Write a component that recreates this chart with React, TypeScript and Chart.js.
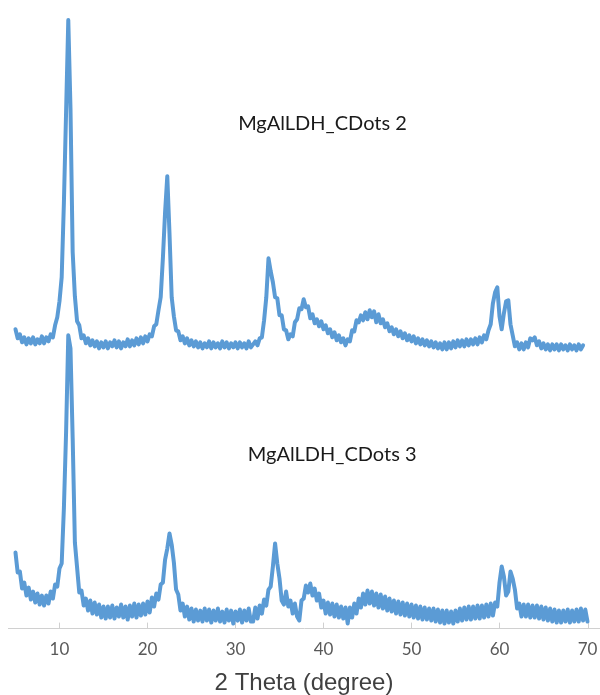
import React, { useEffect, useRef } from "react";
import { Chart, registerables } from "chart.js";

Chart.register(...registerables);

// 2θ (degree) sampling grid
const twoTheta: number[] = [
  5, 5.25, 5.5, 5.75, 6, 6.25, 6.5, 6.75,
  7, 7.25, 7.5, 7.75, 8, 8.25, 8.5, 8.75,
  9, 9.25, 9.5, 9.75, 10, 10.25, 10.5, 10.75,
  11, 11.25, 11.5, 11.75, 12, 12.25, 12.5, 12.75,
  13, 13.25, 13.5, 13.75, 14, 14.25, 14.5, 14.75,
  15, 15.25, 15.5, 15.75, 16, 16.25, 16.5, 16.75,
  17, 17.25, 17.5, 17.75, 18, 18.25, 18.5, 18.75,
  19, 19.25, 19.5, 19.75, 20, 20.25, 20.5, 20.75,
  21, 21.25, 21.5, 21.75, 22, 22.25, 22.5, 22.75,
  23, 23.25, 23.5, 23.75, 24, 24.25, 24.5, 24.75,
  25, 25.25, 25.5, 25.75, 26, 26.25, 26.5, 26.75,
  27, 27.25, 27.5, 27.75, 28, 28.25, 28.5, 28.75,
  29, 29.25, 29.5, 29.75, 30, 30.25, 30.5, 30.75,
  31, 31.25, 31.5, 31.75, 32, 32.25, 32.5, 32.75,
  33, 33.25, 33.5, 33.75, 34, 34.25, 34.5, 34.75,
  35, 35.25, 35.5, 35.75, 36, 36.25, 36.5, 36.75,
  37, 37.25, 37.5, 37.75, 38, 38.25, 38.5, 38.75,
  39, 39.25, 39.5, 39.75, 40, 40.25, 40.5, 40.75,
  41, 41.25, 41.5, 41.75, 42, 42.25, 42.5, 42.75,
  43, 43.25, 43.5, 43.75, 44, 44.25, 44.5, 44.75,
  45, 45.25, 45.5, 45.75, 46, 46.25, 46.5, 46.75,
  47, 47.25, 47.5, 47.75, 48, 48.25, 48.5, 48.75,
  49, 49.25, 49.5, 49.75, 50, 50.25, 50.5, 50.75,
  51, 51.25, 51.5, 51.75, 52, 52.25, 52.5, 52.75,
  53, 53.25, 53.5, 53.75, 54, 54.25, 54.5, 54.75,
  55, 55.25, 55.5, 55.75, 56, 56.25, 56.5, 56.75,
  57, 57.25, 57.5, 57.75, 58, 58.25, 58.5, 58.75,
  59, 59.25, 59.5, 59.75, 60, 60.25, 60.5, 60.75,
  61, 61.25, 61.5, 61.75, 62, 62.25, 62.5, 62.75,
  63, 63.25, 63.5, 63.75, 64, 64.25, 64.5, 64.75,
  65, 65.25, 65.5, 65.75, 66, 66.25, 66.5, 66.75,
  67, 67.25, 67.5, 67.75, 68, 68.25, 68.5, 68.75,
  69, 69.25, 69.5, 69.75, 70,
];

// MgAlLDH_CDots 2 (upper, offset trace), arbitrary units
const cdots2: (number | null)[] = [
  299, 290, 294, 286, 291, 284, 290, 285, // 5-6
  291, 284, 289, 285, 292, 285, 291, 287, // 7-8
  294, 291, 303, 311, 327, 351, 425, 516, // 9-10
  608, 520, 376, 332, 307, 303, 290, 293, // 11-12
  285, 290, 283, 288, 282, 287, 280, 286, // 13-14
  281, 287, 280, 286, 282, 288, 281, 287, // 15-16
  280, 286, 282, 289, 282, 288, 283, 290, // 17-18
  284, 291, 285, 292, 287, 294, 292, 302, // 19-20
  304, 318, 331, 370, 416, 452, 395, 331, // 21-22
  312, 298, 297, 288, 292, 285, 290, 283, // 23-24
  288, 282, 287, 281, 286, 280, 285, 281, // 25-26
  287, 280, 286, 281, 285, 280, 287, 281, // 27-28
  286, 280, 285, 281, 286, 280, 286, 281, // 29-30
  285, 280, 287, 281, 284, 287, 283, 290, // 31-32
  291, 308, 331, 370, 357, 346, 331, 330, // 33-34
  313, 313, 299, 298, 289, 294, 292, 306, // 35-36
  309, 320, 319, 329, 321, 322, 310, 314, // 37-38
  305, 309, 302, 307, 299, 303, 295, 299, // 39-40
  291, 296, 288, 293, 286, 290, 283, 289, // 41-42
  287, 298, 297, 308, 306, 313, 308, 316, // 43-44
  309, 318, 311, 317, 306, 314, 305, 309, // 45-46
  301, 305, 297, 301, 294, 299, 292, 297, // 47-48
  290, 295, 288, 293, 287, 292, 285, 290, // 49-50
  284, 289, 283, 288, 282, 287, 281, 286, // 51-52
  280, 285, 279, 286, 279, 286, 280, 287, // 53-54
  281, 288, 282, 288, 282, 289, 283, 289, // 55-56
  284, 290, 284, 291, 286, 293, 289, 298, // 57-58
  304, 325, 336, 341, 312, 299, 315, 327, // 59-60
  328, 304, 293, 282, 286, 279, 285, 279, // 61-62
  286, 281, 290, 288, 291, 283, 287, 280, // 63-64
  285, 279, 284, 278, 284, 279, 284, 278, // 65-66
  284, 279, 283, 278, 284, 279, 283, 278, // 67-68
  284, 279, 283, null, null,              // 69-70
];

// MgAlLDH_CDots 3 (lower trace), arbitrary units
const cdots3: number[] = [
  76, 56, 57, 40, 46, 33, 41, 29,        // 5-6
  37, 26, 35, 24, 33, 23, 33, 25,        // 7-8
  37, 30, 44, 42, 60, 65, 120, 196,      // 9-10
  293, 280, 190, 86, 61, 36, 38, 23,     // 11-12
  30, 18, 28, 15, 26, 14, 24, 11,        // 13-14
  22, 10, 22, 11, 23, 10, 21, 12,        // 15-16
  24, 11, 22, 9, 23, 12, 25, 11,         // 17-18
  24, 13, 25, 14, 27, 16, 31, 22,        // 19-20
  35, 29, 44, 46, 69, 80, 95, 84,        // 21-22
  66, 39, 34, 18, 25, 12, 22, 9,         // 23-24
  20, 7, 19, 8, 18, 7, 20, 8,            // 25-26
  19, 6, 18, 8, 20, 7, 17, 6,            // 27-28
  19, 8, 18, 5, 17, 8, 19, 6,            // 29-30
  18, 8, 20, 7, 7, 21, 10, 23,           // 31-32
  15, 29, 23, 39, 42, 62, 85, 65,        // 33-34
  50, 28, 24, 37, 22, 28, 15, 25,        // 35-36
  12, 8, 28, 30, 43, 36, 45, 33,         // 37-38
  40, 28, 35, 21, 28, 15, 26, 14,        // 39-40
  25, 12, 24, 11, 22, 10, 21, 5,         // 41-42
  21, 11, 25, 15, 30, 21, 35, 24,        // 43-44
  38, 25, 37, 23, 35, 21, 34, 20,        // 45-46
  32, 18, 30, 17, 28, 15, 27, 14,        // 47-48
  26, 13, 25, 12, 24, 11, 23, 10,        // 49-50
  22, 9, 21, 9, 20, 8, 20, 7,            // 51-52
  19, 6, 18, 5, 18, 6, 17, 5,            // 53-54
  18, 7, 20, 8, 21, 9, 22, 9,            // 55-56
  22, 10, 23, 10, 23, 11, 24, 12,        // 57-58
  25, 13, 26, 22, 46, 62, 52, 33,        // 59-60
  37, 57, 50, 39, 20, 25, 12, 24,        // 61-62
  12, 24, 11, 23, 11, 23, 10, 22,        // 63-64
  9, 21, 8, 20, 7, 19, 6, 18,            // 65-66
  6, 18, 7, 19, 6, 18, 7, 19,            // 67-68
  7, 20, 8, 19, 7,                       // 69-70
];

const xTickValues: number[] = [10, 20, 30, 40, 50, 60, 70];
const seriesNames: string[] = ["MgAlLDH_CDots 2", "MgAlLDH_CDots 3"];
const axisTitle = "2 Theta (degree)";

// label anchors (2θ, intensity) for the in-plot series names
const labelTheta: number[] = [30.3, 31.4];
const labelIntensity: number[] = [505, 174];

const LINE_COLOR = "#5b9bd5";

const innerTicks = {
  id: "innerTicks",
  beforeDatasetsDraw(chart: any) {
    const x = chart.scales.x;
    const { ctx, chartArea } = chart;
    ctx.save();
    ctx.strokeStyle = "#d0d0d0";
    ctx.lineWidth = 1;
    x.ticks.forEach((t: any) => {
      const px = Math.round(x.getPixelForValue(t.value)) + 0.5;
      ctx.beginPath();
      ctx.moveTo(px, chartArea.bottom);
      ctx.lineTo(px, chartArea.bottom - 6);
      ctx.stroke();
    });
    ctx.restore();
  },
};

const seriesLabels = {
  id: "seriesLabels",
  afterDatasetsDraw(chart: any) {
    const { ctx } = chart;
    const x = chart.scales.x;
    const y = chart.scales.y;
    ctx.save();
    ctx.fillStyle = "#1a1a1a";
    ctx.font = "20px Lato, 'Open Sans', sans-serif";
    ctx.textAlign = "left";
    ctx.textBaseline = "middle";
    seriesNames.forEach((name, i) => {
      ctx.fillText(name, x.getPixelForValue(labelTheta[i]), y.getPixelForValue(labelIntensity[i]));
    });
    ctx.restore();
  },
};

export default function App() {
  const ref = useRef<HTMLCanvasElement | null>(null);

  useEffect(() => {
    if (!ref.current) return;
    const toPoints = (vals: (number | null)[]) =>
      twoTheta.map((t, i) => ({ x: t, y: vals[i] }));
    const lineStyle = {
      borderColor: LINE_COLOR,
      borderWidth: 4,
      pointRadius: 0,
      tension: 0,
      fill: false,
      borderJoinStyle: "round" as const,
      borderCapStyle: "round" as const,
      spanGaps: false,
    };
    const chart = new Chart(ref.current, {
      type: "line",
      data: {
        datasets: [
          { label: seriesNames[0], data: toPoints(cdots2) as any, ...lineStyle },
          { label: seriesNames[1], data: toPoints(cdots3) as any, ...lineStyle },
        ],
      },
      options: {
        responsive: false,
        animation: false,
        layout: { padding: { left: 8, top: 8, right: 0, bottom: 0 } },
        plugins: {
          legend: { display: false },
          tooltip: { enabled: false },
        },
        scales: {
          x: {
            type: "linear",
            min: 4.15,
            max: 71.42,
            afterBuildTicks: (scale: any) => {
              scale.ticks = xTickValues.map((v) => ({ value: v }));
            },
            afterFit: (scale: any) => {
              scale.paddingLeft = 0;
              scale.paddingRight = 0;
            },
            grid: { display: true, drawOnChartArea: false, drawTicks: false },
            border: { display: true, color: "#d0d0d0", width: 1 },
            ticks: {
              padding: 11,
              color: "#595959",
              font: { family: "Lato, 'Open Sans', sans-serif", size: 17 },
              maxRotation: 0,
              autoSkip: false,
            },
            title: {
              display: true,
              text: axisTitle,
              color: "#404040",
              font: { family: "'Liberation Sans', Arial, sans-serif", size: 24, lineHeight: 1 },
              padding: { top: 0, bottom: 0 },
            },
          },
          y: {
            type: "linear",
            display: false,
            min: 0,
            max: 620,
          },
        },
      },
      plugins: [innerTicks, seriesLabels],
    });
    return () => chart.destroy();
  }, []);

  return (
    <div style={{ position: "absolute", left: 0, top: 0, width: 600, height: 695 }}>
      <canvas ref={ref} width={600} height={695} style={{ display: "block" }} />
    </div>
  );
}
